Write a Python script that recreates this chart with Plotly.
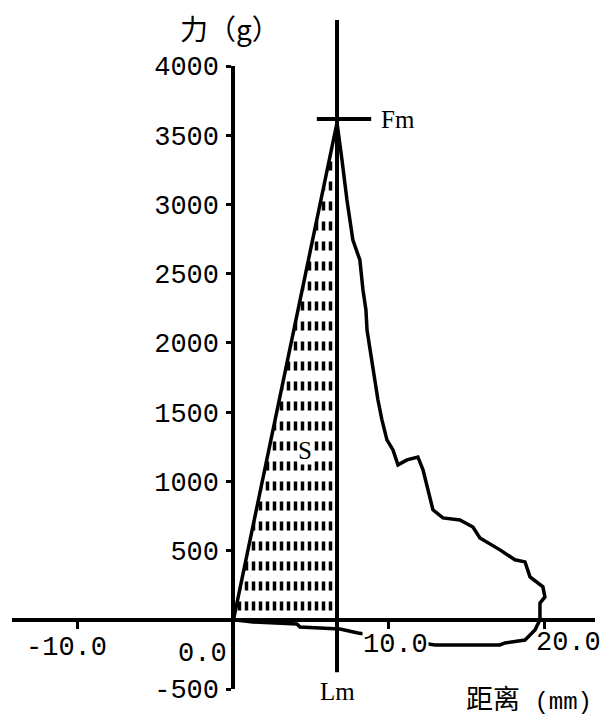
import plotly.graph_objects as go

# ---------------- data (distance in mm, force in g) ----------------
rise_x = [0.0, 1.5, 3.3, 5.0, 6.66]
rise_y = [0, 810, 1780, 2700, 3590]

fall_x = [6.98, 7.30, 7.68, 8.13, 8.33, 8.52, 8.59, 8.84, 9.10, 9.29,
          9.55, 9.87, 10.26, 10.58, 11.16, 11.86, 12.19, 12.51, 12.83, 13.47,
          14.56, 15.40, 15.85, 17.14, 18.10, 18.75, 19.07, 19.90, 20.03, 19.71,
          19.71, 19.39, 18.75, 17.46, 17.14, 12.96, 8.01, 6.85, 4.28, 4.08,
          1.25, 0.0]
fall_y = [3321, 3032, 2743, 2599, 2382, 2238, 2093, 1913, 1733, 1589,
          1444, 1300, 1227, 1119, 1155, 1176, 1083, 938, 794, 736,
          721, 670, 591, 505, 433, 418, 310, 238, 165, 121,
          0, -74, -146, -167, -182, -182, -95, -66, -52, -30,
          -16, 0]

LM = 6.66      # distance at max force
FM = 3617      # max force marker level

y_tickvals = [4000, 3500, 3000, 2500, 2000, 1500, 1000, 500, -500]
y_ticktext = ["4000", "3500", "3000", "2500", "2000", "1500", "1000", "500", "-500"]
x_tickvals = [-10, 0, 10, 20]
x_ticktext = ["-10.0", "0.0", "10.0", "20.0"]

X_RANGE = [-14.24, 23.25]
Y_RANGE = [-500, 4000]

MONO = "Liberation Mono"
SERIF = "Liberation Serif"
CJK = "Noto Sans CJK SC"

fig = go.Figure()

# hatched area S (vertical dashes in rows)
hx = rise_x + [LM, 0.0]
hy = rise_y + [0, 0]
fig.add_trace(go.Scatter(
    x=hx, y=hy, fill="toself", mode="none", hoverinfo="skip",
    fillcolor="rgba(0,0,0,0)",
    fillpattern=dict(shape="|", size=7, solidity=0.5, fgcolor="black",
                     bgcolor="white", fillmode="replace")))
fig.add_trace(go.Scatter(
    x=hx, y=hy, fill="toself", mode="none", hoverinfo="skip",
    fillcolor="rgba(0,0,0,0)",
    fillpattern=dict(shape="-", size=20, solidity=0.55, fgcolor="white",
                     bgcolor="rgba(0,0,0,0)", fillmode="replace")))

# force-distance curve
fig.add_trace(go.Scatter(
    x=rise_x + fall_x, y=rise_y + fall_y, mode="lines",
    line=dict(color="black", width=3.5)))

xpos = (0 - Y_RANGE[0]) / (Y_RANGE[1] - Y_RANGE[0])
ypos = (0 - X_RANGE[0]) / (X_RANGE[1] - X_RANGE[0])

fig.update_xaxes(range=X_RANGE, anchor="free", position=xpos,
                 showline=True, linecolor="black", linewidth=4,
                 ticks="outside", tickvals=[-10, 10, 20], ticklen=7,
                 tickwidth=3, tickcolor="black", showticklabels=False,
                 showgrid=False, zeroline=False)
fig.update_yaxes(range=Y_RANGE, anchor="free", position=ypos,
                 showline=True, linecolor="black", linewidth=4,
                 ticks="outside", tickvals=y_tickvals, ticktext=y_ticktext,
                 ticklen=5, tickwidth=3, tickcolor="black",
                 ticklabelstandoff=2,
                 tickfont=dict(family=MONO, size=27, color="black"),
                 showgrid=False, zeroline=False)

shapes = [
    # Lm vertical line
    dict(type="line", xref="x", yref="paper", x0=LM, x1=LM, y0=0.027, y1=1.074,
         line=dict(color="black", width=4), layer="above"),
    # Fm horizontal line
    dict(type="line", xref="x", yref="y", x0=LM - 1.3, x1=LM + 2.2, y0=FM, y1=FM,
         line=dict(color="black", width=4), layer="above"),
]

# x tick label offsets (px)
x_shift = [-11, -31, 7, 24]
y_shift = [-28, -34, -25, -23]
annotations = []
for v, t, dx, dy in zip(x_tickvals, x_ticktext, x_shift, y_shift):
    annotations.append(dict(x=v, y=0, xref="x", yref="y", text=t, showarrow=False,
                            xshift=dx, yshift=dy, xanchor="center", yanchor="middle",
                            font=dict(family=MONO, size=27, color="black"),
                            bgcolor="white" if v == 10 else None, borderpad=0))

annotations += [
    dict(x=LM + 2.2, y=FM, xref="x", yref="y", text="Fm", showarrow=False,
         xanchor="left", yanchor="middle", xshift=8,
         font=dict(family=SERIF, size=25, color="black")),
    dict(x=LM, y=-500, xref="x", yref="y", text="Lm", showarrow=False,
         xanchor="center", yanchor="middle", yshift=-2,
         font=dict(family=SERIF, size=25, color="black")),
    dict(x=4.6, y=1226, xref="x", yref="y", text="S", showarrow=False,
         xanchor="center", yanchor="middle", bgcolor="white", borderpad=0,
         font=dict(family=SERIF, size=25, color="black")),
    dict(x=0, y=1.061, xref="x", yref="paper", text="力（g）", showarrow=False,
         xanchor="center", yanchor="middle", xshift=-3,
         font=dict(family=CJK, size=28, color="black")),
    dict(x=14.9, y=-0.0465, xref="x", yref="paper",
         text="距离<span style='font-family:Liberation Mono;font-size:24px'> (mm)</span>",
         showarrow=False, xanchor="left", yanchor="bottom", borderpad=0,
         font=dict(family=CJK, size=27, color="black")),
]

# page body has an 8 px margin: figure is 8 px smaller so the plot lands in place
fig.update_layout(width=601, height=712,
                  margin=dict(l=4, r=14, t=58, b=31),
                  plot_bgcolor="white", paper_bgcolor="white",
                  showlegend=False, shapes=shapes, annotations=annotations)

fig.write_html("out.html")
